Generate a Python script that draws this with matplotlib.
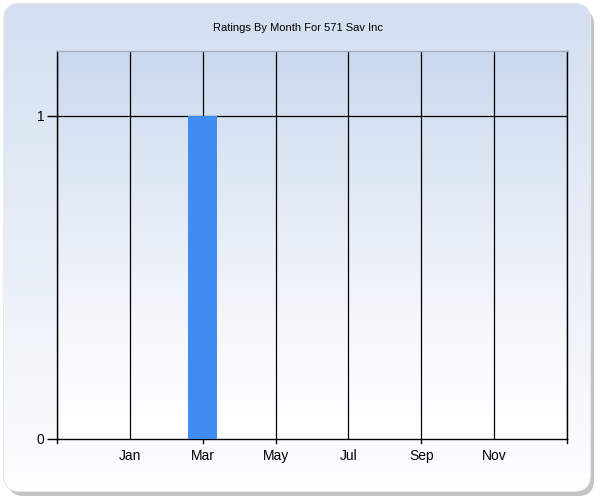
import numpy as np
import matplotlib
matplotlib.use("Agg")
import matplotlib.pyplot as plt
from matplotlib.patches import FancyBboxPatch

plt.rcParams['font.family'] = ['Liberation Sans', 'DejaVu Sans']

# dados
months = ["Jan", "Feb", "Mar", "Apr", "May", "Jun",
          "Jul", "Aug", "Sep", "Oct", "Nov", "Dec"]
ratings = [0, 0, 1, 0, 0, 0, 0, 0, 0, 0, 0, 0]
title = "Ratings By Month For 571 Sav Inc"

W, H = 600, 500
fig = plt.figure(figsize=(6, 5), dpi=100)
fig.patch.set_facecolor("white")

# fundo arredondado com gradiente e sombra
bg = fig.add_axes([0, 0, 1, 1])
bg.set_xlim(0, W)
bg.set_ylim(0, H)
bg.axis("off")

shadow = FancyBboxPatch((8, 4), 586, 487, boxstyle="round,pad=0,rounding_size=16",
                        facecolor="#bdbdbd", edgecolor="none", alpha=0.9)
bg.add_patch(shadow)
frame = FancyBboxPatch((4, 9), 586, 487, boxstyle="round,pad=0,rounding_size=16",
                       facecolor="white", edgecolor="#e8e8e8", linewidth=1.5)
bg.add_patch(frame)
grad = np.linspace(0, 1, 256).reshape(-1, 1)
c_top = np.array([0xd3, 0xdf, 0xf0]) / 255
c_bot = np.array([0xfd, 0xfe, 0xff]) / 255
img = c_bot + (c_top - c_bot) * grad
img = img.reshape(256, 1, 3)
im = bg.imshow(img, extent=[4, 590, 9, 496], origin="lower", aspect="auto", zorder=1)
im.set_clip_path(frame)

# area do grafico
ax = fig.add_axes([57 / W, 61 / H, 510 / W, 388 / H])

g = np.linspace(0, 1, 256).reshape(-1, 1) ** 1.3
p_top = np.array([0xca, 0xd8, 0xee]) / 255
p_bot = np.array([0xff, 0xff, 0xff]) / 255
pimg = (p_bot + (p_top - p_bot) * g).reshape(256, 1, 3)
ax.imshow(pimg, extent=[-1, 13, 0, 1.2], origin="lower", aspect="auto", zorder=0)
ax.set_xlim(-1, 13)
ax.set_ylim(0, 1.2)

x = np.arange(1, 13)
ax.bar(x, ratings, width=0.8, color="#418cf0", zorder=3)

ax.set_xticks(range(-1, 14, 2))
ax.set_xticklabels([""] + months[0::2] + [""], fontsize=10)
ax.set_yticks([0, 1])
ax.set_yticklabels(["0", "1"], fontsize=10)
ax.tick_params(axis="x", length=0, pad=7)
ax.tick_params(axis="y", length=7, width=1, color="black", pad=2)

# marcas pequenas no eixo x
for t in [-1, 3, 5, 9, 13]:
    ax.plot([t, t], [0, -0.012], color="black", lw=1, clip_on=False, zorder=4)

for t in range(-1, 14, 2):
    ax.axvline(t, color="black", lw=0.9, zorder=2)
ax.axhline(1, color="black", lw=0.9, zorder=2)

for s in ["left", "bottom", "right"]:
    ax.spines[s].set_color("black")
    ax.spines[s].set_linewidth(1)
ax.spines["top"].set_color("#a3adbf")
ax.spines["top"].set_linewidth(1)

fig.text(298 / W, 1 - 28 / H, title, ha="center", va="center", fontsize=8)

fig.savefig("out.png", dpi=100)
